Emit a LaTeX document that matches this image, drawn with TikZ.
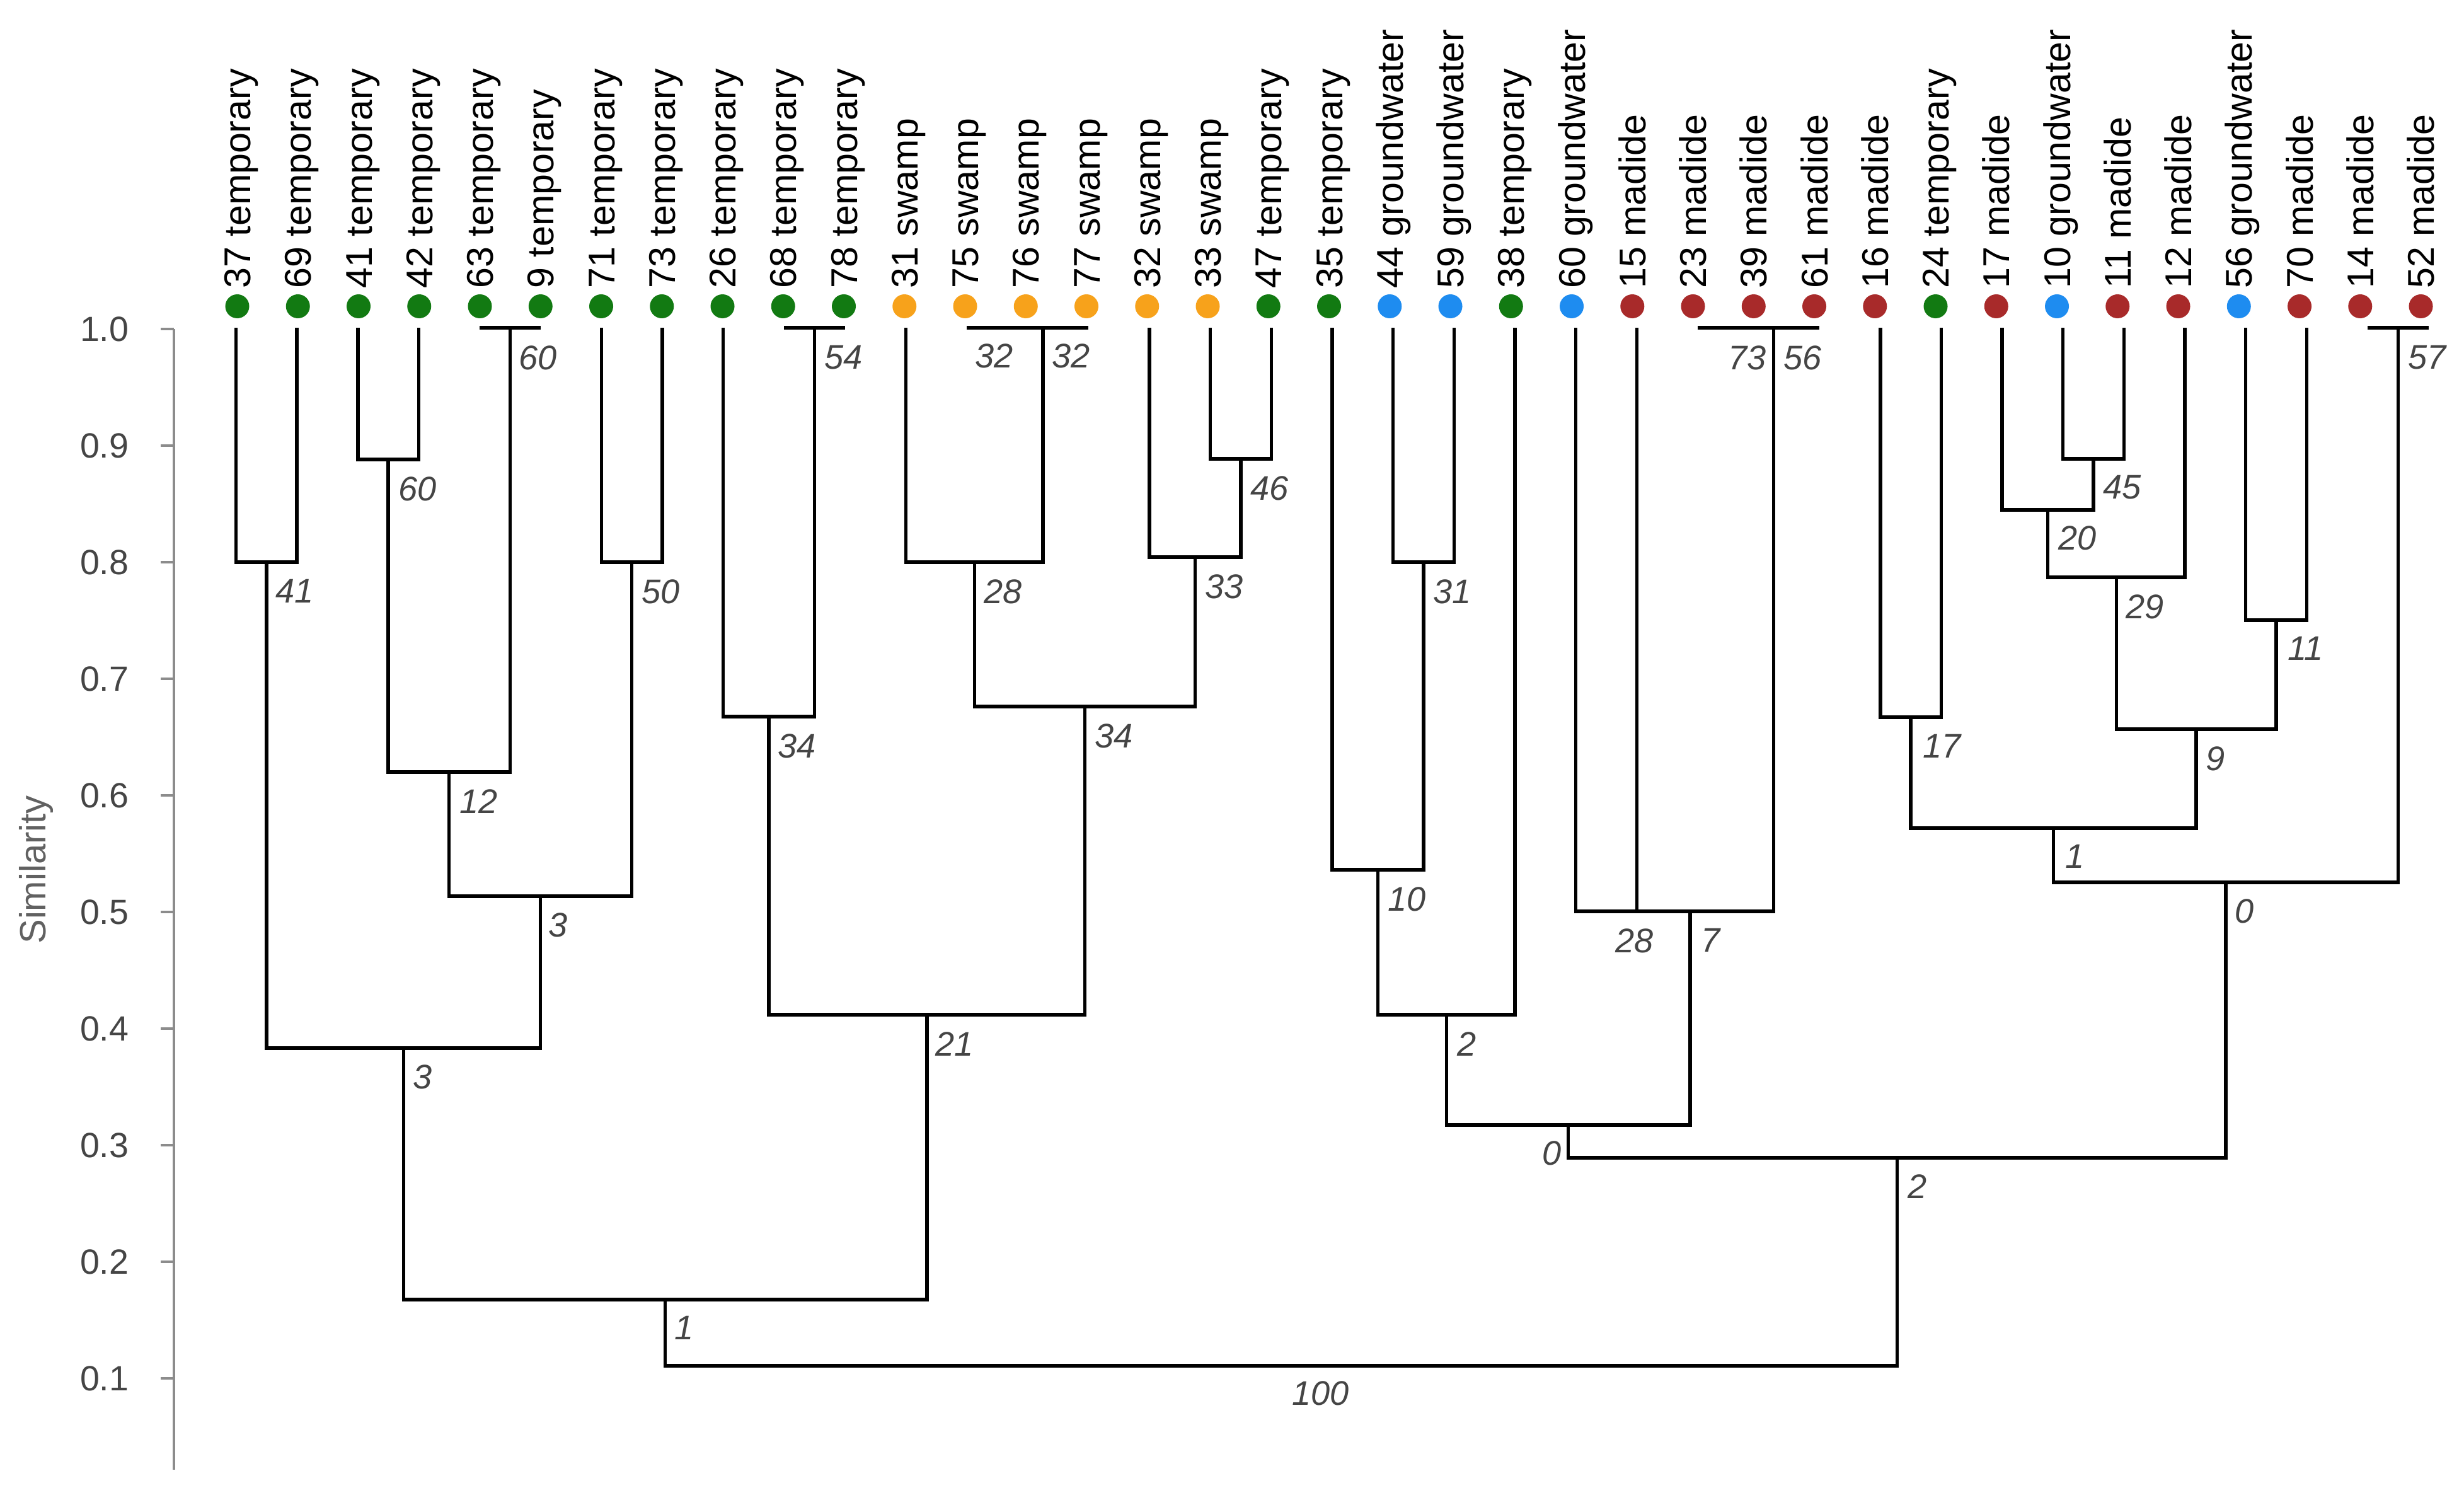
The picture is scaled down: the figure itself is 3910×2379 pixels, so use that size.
\documentclass[tikz,border=0pt]{standalone}
\usepackage{fontspec}
\setmainfont{Liberation Sans}
\definecolor{tg}{HTML}{127A12}
\definecolor{sw}{HTML}{F7A21B}
\definecolor{gw}{HTML}{1E8CF0}
\definecolor{md}{HTML}{A82A2A}
\definecolor{axisgray}{HTML}{8C8C8C}
\definecolor{txtgray}{HTML}{454545}
\begin{document}
\begin{tikzpicture}[x=0.01cm, y=-0.01cm,
  tree/.style={line width=1.55pt, line join=miter},
  axisline/.style={line width=1pt, draw=axisgray},
  dot/.style={circle, inner sep=0pt, minimum size=0.38cm, draw=none},
  leaflab/.style={rotate=90, inner sep=0pt, anchor=base west, font=\fontsize{16.8}{18}\selectfont},
  bs/.style={inner sep=0pt, anchor=north west, text=txtgray, font=\fontsize{15.4}{17}\selectfont\itshape},
  ticklab/.style={inner sep=0pt, anchor=east, text=txtgray, font=\fontsize{15.8}{17}\selectfont}]
\useasboundingbox[fill=white] (0,0) rectangle (3910,2379);

% leaves
\foreach \i/\lab/\col in {1/37 temporary/tg, 2/69 temporary/tg, 3/41 temporary/tg, 4/42 temporary/tg,
  5/63 temporary/tg, 6/9 temporary/tg, 7/71 temporary/tg, 8/73 temporary/tg, 9/26 temporary/tg,
  10/68 temporary/tg, 11/78 temporary/tg, 12/31 swamp/sw, 13/75 swamp/sw, 14/76 swamp/sw,
  15/77 swamp/sw, 16/32 swamp/sw, 17/33 swamp/sw, 18/47 temporary/tg, 19/35 temporary/tg,
  20/44 groundwater/gw, 21/59 groundwater/gw, 22/38 temporary/tg, 23/60 groundwater/gw,
  24/15 madide/md, 25/23 madide/md, 26/39 madide/md, 27/61 madide/md, 28/16 madide/md,
  29/24 temporary/tg, 30/17 madide/md, 31/10 groundwater/gw, 32/11 madide/md, 33/12 madide/md,
  34/56 groundwater/gw, 35/70 madide/md, 36/14 madide/md, 37/52 madide/md}{
  \pgfmathsetmacro\xd{376.5+96.25*(\i-1)}
  \pgfmathsetmacro\xl{374.5+96.64*(\i-1)}
  \coordinate (lf\i) at (\xl,520);
  \node[dot, fill=\col] (d\i) at (\xd,486) {};
  \node[leaflab] (t\i) at ({\xd+21},458) {\lab};
}

% merge points
\coordinate (mA1) at (422.8,892);
\coordinate (mA2) at (616.1,729);
\coordinate (mA3) at (809.4,520);
\coordinate (mA4) at (712.7,1225);
\coordinate (mA5) at (1002.7,892);
\coordinate (mA6) at (857.7,1422);
\coordinate (mA7) at (640.3,1663);
\coordinate (mB1) at (1292.6,520);
\coordinate (mB2) at (1220.1,1137);
\coordinate (mB3) at (1582.5,520);
\coordinate (mB4) at (1655.0,520);
\coordinate (mB5) at (1546.3,892);
\coordinate (mB6) at (1969.1,728);
\coordinate (mB7) at (1896.6,884);
\coordinate (mB8) at (1721.5,1121);
\coordinate (mB9) at (1470.8,1610);
\coordinate (mL) at (1055.5,2062);
\coordinate (mC1) at (2259.0,892);
\coordinate (mC2) at (2186.5,1380);
\coordinate (mC3) at (2295.2,1610);
\coordinate (mC4) at (2548.9,1446);
\coordinate (mC5) at (2742.2,520);
\coordinate (mC6) at (2814.7,520);
\coordinate (mC7) at (2681.8,1446);
\coordinate (mC8) at (2488.5,1785);
\coordinate (mD1) at (3032.1,1138);
\coordinate (mD2) at (3322.0,728);
\coordinate (mD3) at (3249.5,809);
\coordinate (mD4) at (3358.2,916);
\coordinate (mD5) at (3611.9,984);
\coordinate (mD6) at (3485.1,1157);
\coordinate (mD7) at (3258.6,1314);
\coordinate (mD8) at (3805.2,520);
\coordinate (mD9) at (3531.9,1400);
\coordinate (mR) at (3010.2,1837);
\coordinate (root) at (2032.9,2167);

% dendrogram
\foreach \a/\m/\b in {lf1/mA1/lf2, lf3/mA2/lf4, lf5/mA3/lf6, mA2/mA4/mA3, lf7/mA5/lf8,
  mA4/mA6/mA5, mA1/mA7/mA6, lf10/mB1/lf11, lf9/mB2/mB1, lf13/mB3/lf14, mB3/mB4/lf15,
  lf12/mB5/mB4, lf17/mB6/lf18, lf16/mB7/mB6, mB5/mB8/mB7, mB2/mB9/mB8, mA7/mL/mB9,
  lf20/mC1/lf21, lf19/mC2/mC1, mC2/mC3/lf22, lf23/mC4/lf24, lf25/mC5/lf26, mC5/mC6/lf27,
  mC4/mC7/mC6, mC3/mC8/mC7, lf28/mD1/lf29, lf31/mD2/lf32, lf30/mD3/mD2, mD3/mD4/lf33,
  lf34/mD5/lf35, mD4/mD6/mD5, mD1/mD7/mD6, lf36/mD8/lf37, mD7/mD9/mD8, mC8/mR/mD9,
  mL/root/mR}{
  \draw[tree] (\a) |- (\m) -| (\b);
}

% bootstrap labels
\node[bs] (bA1) at (437,919) {41};
\node[bs] (bA2) at (632,756) {60};
\node[bs] (bA3) at (823,548) {60};
\node[bs] (bA4) at (729,1252) {12};
\node[bs] (bA5) at (1018,919) {50};
\node[bs] (bA6) at (870,1448) {3};
\node[bs] (bA7) at (655,1689) {3};
\node[bs] (bB1) at (1308,548) {54};
\node[bs] (bB2) at (1234,1164) {34};
\node[bs] (bB3) at (1547,545) {32};
\node[bs] (bB4) at (1669,545) {32};
\node[bs] (bB5) at (1561,919) {28};
\node[bs] (bB6) at (1984,755) {46};
\node[bs] (bB7) at (1912,911) {33};
\node[bs] (bB8) at (1737,1148) {34};
\node[bs] (bB9) at (1484,1637) {21};
\node[bs] (bL) at (1070,2088) {1};
\node[bs] (bC1) at (2274,919) {31};
\node[bs] (bC2) at (2202,1407) {10};
\node[bs] (bC3) at (2312,1637) {2};
\node[bs] (bC4) at (2563,1473) {28};
\node[bs] (bC5) at (2742,548) {73};
\node[bs] (bC6) at (2830,548) {56};
\node[bs] (bC7) at (2699,1473) {7};
\node[bs, anchor=north east] (bC8) at (2478,1810) {0};
\node[bs] (bD1) at (3051,1165) {17};
\node[bs] (bD2) at (3337,754) {45};
\node[bs] (bD3) at (3266,834) {20};
\node[bs] (bD4) at (3373,943) {29};
\node[bs] (bD5) at (3630,1010) {11};
\node[bs] (bD6) at (3500,1184) {9};
\node[bs] (bD7) at (3277,1340) {1};
\node[bs] (bD8) at (3821,548) {57};
\node[bs] (bD9) at (3546,1426) {0};
\node[bs] (bR) at (3027,1863) {2};
\node[bs] (broot) at (2050,2191) {100};

% axis
\coordinate (ax0) at (276,522);
\coordinate (ax1) at (276,2332);
\draw[axisline] (ax0) -- (ax1);
\foreach \k/\lab/\y in {10/1.0/522, 9/0.9/707, 8/0.8/892, 7/0.7/1077, 6/0.6/1262, 5/0.5/1447,
  4/0.4/1632, 3/0.3/1817, 2/0.2/2002, 1/0.1/2187}{
  \coordinate (tk\k) at (276,\y);
  \draw[axisline] (tk\k) -- ++(-21,0);
  \node[ticklab] (tl\k) at (205,\y) {\lab};
}
\node[rotate=90, anchor=base, inner sep=0pt, text=txtgray!85!white,
  font=\fontsize{16.5}{18}\selectfont] (ylab) at (72,1380) {Similarity};
\end{tikzpicture}
\end{document}
